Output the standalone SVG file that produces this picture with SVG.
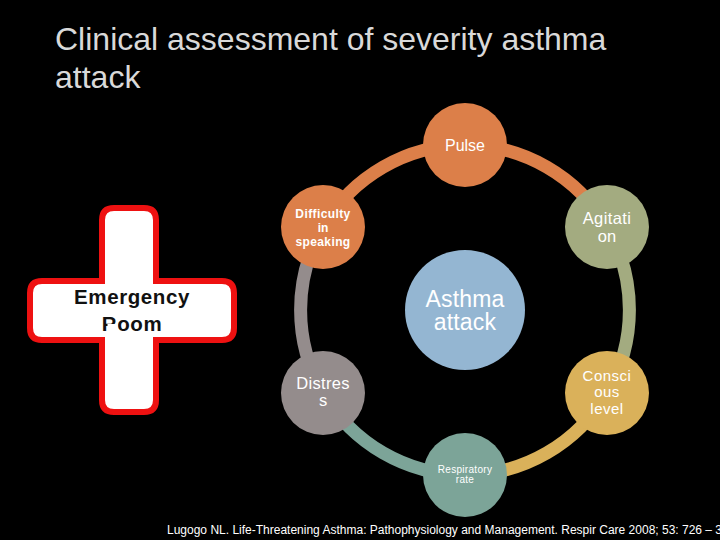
<svg xmlns="http://www.w3.org/2000/svg" width="720" height="540" viewBox="0 0 720 540">
<style>
text{font-family:"Liberation Sans",Arial,sans-serif;text-anchor:middle;fill:#fff}
.arc{fill:none;stroke-width:13}
.t{font-size:32px;text-anchor:start;fill:#d9d9d9}
.h{font-weight:700;fill:#111;font-size:20.5px;letter-spacing:.6px}
</style>
<rect width="720" height="540" fill="#000"/>
<g id="title"><text x="55" y="50" class="t">Clinical assessment of severity asthma</text>
<text x="55" y="88" class="t">attack</text></g>
<g id="connectors">
<path class="arc" stroke="#dc7f49" d="M323 227A165 165 0 0 1 465 145"/>
<path class="arc" stroke="#dc7f49" d="M465 145A165 165 0 0 1 607 227"/>
<path class="arc" stroke="#a3ab80" d="M607 227A165 165 0 0 1 607 393"/>
<path class="arc" stroke="#dab15a" d="M607 393A165 165 0 0 1 465 475"/>
<path class="arc" stroke="#7ca498" d="M465 475A165 165 0 0 1 323 393"/>
<path class="arc" stroke="#948c8c" d="M323 393A165 165 0 0 1 323 227"/>
</g>
<g id="cross">
<path d="M114 208H144Q156 208 156 220V281H222Q234 281 234 293V328Q234 340 222 340H156V400Q156 412 144 412H114Q102 412 102 400V340H42Q30 340 30 328V293Q30 281 42 281H102V220Q102 208 114 208Z" fill="#fff" stroke="#ee1111" stroke-width="6"/>
<text x="132" y="304" class="h">Emergency</text>
<text x="132" y="331" class="h">Room</text>
<rect x="107.500" y="324" width="10" height="9" fill="#fff"/>
</g>
<g id="node-center"><circle cx="465" cy="310" r="60" fill="#94b6d2"/><text x="465" y="306.500" font-size="23" letter-spacing=".2">Asthma</text><text x="465" y="329.500" font-size="23" letter-spacing=".2">attack</text></g>
<g id="node-pulse"><circle cx="465" cy="145" r="42" fill="#dc7f49"/><text x="465" y="150.500" font-size="16">Pulse</text></g>
<g id="node-agitation"><circle cx="607" cy="227" r="42" fill="#a3ab80"/><text x="607" y="224" font-size="16.500" letter-spacing=".4">Agitati</text><text x="607" y="242" font-size="16.500">on</text></g>
<g id="node-conscious"><circle cx="607" cy="393" r="42" fill="#dab15a"/><text x="607" y="381" font-size="15" letter-spacing=".5">Consci</text><text x="607" y="397" font-size="15" letter-spacing=".5">ous</text><text x="607" y="414" font-size="15" letter-spacing=".5">level</text></g>
<g id="node-respiratory"><circle cx="465" cy="475" r="42" fill="#7ca498"/><text x="465" y="473" font-size="10" letter-spacing=".3">Respiratory</text><text x="465" y="483" font-size="10" letter-spacing=".3">rate</text></g>
<g id="node-distress"><circle cx="323" cy="393" r="42" fill="#948c8c"/><text x="323" y="389" font-size="16.500" letter-spacing=".3">Distres</text><text x="323" y="406" font-size="16.500">s</text></g>
<g id="node-difficulty"><circle cx="323" cy="227" r="42" fill="#dc7f49"/><text x="323" y="218" font-size="12" font-weight="700" letter-spacing=".4">Difficulty</text><text x="323" y="232" font-size="12" font-weight="700">in</text><text x="323" y="246" font-size="12" font-weight="700" letter-spacing=".4">speaking</text></g>
<text id="citation" x="167" y="534" font-size="12" style="text-anchor:start">Lugogo NL. Life-Threatening Asthma: Pathophysiology and Management. Respir Care 2008; 53: 726 – 3</text>
</svg>
